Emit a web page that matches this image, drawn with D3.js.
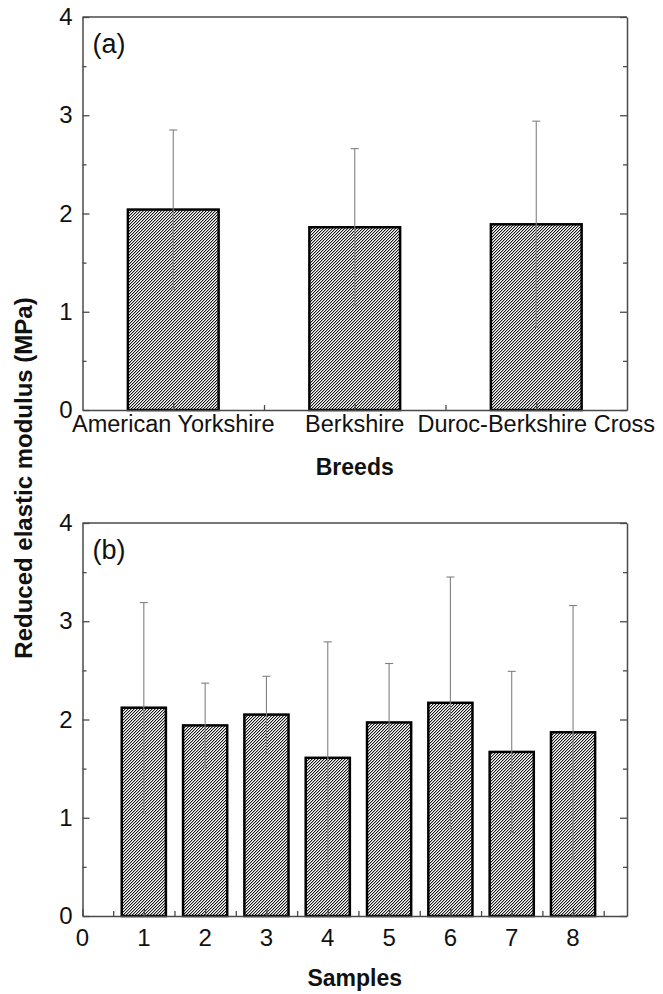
<!DOCTYPE html>
<html>
<head>
<meta charset="utf-8">
<script src="https://cdn.jsdelivr.net/npm/d3@7"></script>
<style>
  html, body { margin: 0; padding: 0; background: #fff; }
  svg { display: block; }
  text { font-family: "Liberation Sans", Arial, sans-serif; fill: #111; }
</style>
</head>
<body>
<script>
// ---------- data ----------
const breeds = ["American Yorkshire", "Berkshire", "Duroc-Berkshire Cross"];
const breedMeans = [2.04, 1.86, 1.89];
const breedSD = [0.81, 0.80, 1.05];

const samples = [1, 2, 3, 4, 5, 6, 7, 8];
const sampleMeans = [2.12, 1.94, 2.05, 1.61, 1.97, 2.17, 1.67, 1.87];
const sampleSD = [1.07, 0.43, 0.39, 1.18, 0.60, 1.28, 0.82, 1.29];

const yTicks = [0, 1, 2, 3, 4];
const yMinorTicks = [0.5, 1.5, 2.5, 3.5];
const sampleTicks = [0, 1, 2, 3, 4, 5, 6, 7, 8];
const sampleMinorTicks = [0.5, 1.5, 2.5, 3.5, 4.5, 5.5, 6.5, 7.5, 8.5];
const breedTicks = [1, 2, 3];
const breedMinorTicks = [1.5, 2.5];

const yLabel = "Reduced elastic modulus (MPa)";

// ---------- layout ----------
const W = 663, H = 994;
const left = 82.5, right = 627;
const svg = d3.select("body").append("svg").attr("width", W).attr("height", H);
svg.append("rect").attr("width", W).attr("height", H).attr("fill", "#fff");

// hatch pattern "/"
const defs = svg.append("defs");
const pat = defs.append("pattern").attr("id", "hatch").attr("patternUnits", "userSpaceOnUse")
  .attr("width", 3).attr("height", 3);
pat.append("rect").attr("width", 3).attr("height", 3).attr("fill", "#fff");
[[0, 2], [1, 1], [2, 0]].forEach(([px, py]) =>
  pat.append("rect").attr("x", px).attr("y", py).attr("width", 1).attr("height", 1)
    .attr("fill", "#1a1a1a").attr("shape-rendering", "crispEdges"));
[[1, 2], [2, 1], [0, 0]].forEach(([px, py]) =>
  pat.append("rect").attr("x", px).attr("y", py).attr("width", 1).attr("height", 1)
    .attr("fill", "#b0b0b0").attr("shape-rendering", "crispEdges"));

const FRAME = "#4a4a4a";

function panel(cfg) {
  const { x, y, cats, means, sds, barW, tag, majorX, minorX } = cfg;
  const g = svg.append("g");
  const [y0, y1] = y.range();
  const [x0, x1] = x.range();

  // bars
  g.selectAll("rect.bar").data(means).join("rect")
    .attr("class", "bar")
    .attr("x", (d, i) => x(cats[i]) - (x(barW) - x(0)) / 2)
    .attr("width", x(barW) - x(0))
    .attr("y", d => y(d))
    .attr("height", d => y(0) - y(d))
    .attr("fill", "url(#hatch)")
    .attr("stroke", "#000").attr("stroke-width", 2.5);

  // error bars
  const eb = g.selectAll("g.eb").data(means).join("g").attr("class", "eb")
    .attr("stroke", "#808080").attr("stroke-width", 1.1);
  eb.append("line")
    .attr("x1", (d, i) => x(cats[i])).attr("x2", (d, i) => x(cats[i]))
    .attr("y1", (d, i) => y(d + sds[i])).attr("y2", (d, i) => y(d - sds[i]));
  eb.append("line")
    .attr("x1", (d, i) => x(cats[i]) - 4).attr("x2", (d, i) => x(cats[i]) + 4)
    .attr("y1", (d, i) => y(d + sds[i])).attr("y2", (d, i) => y(d + sds[i]));
  eb.append("line")
    .attr("x1", (d, i) => x(cats[i]) - 2).attr("x2", (d, i) => x(cats[i]) + 2)
    .attr("y1", (d, i) => y(d - sds[i])).attr("y2", (d, i) => y(d - sds[i]));

  // axes (inward ticks)
  const styleAxis = sel => {
    sel.select(".domain").attr("stroke", FRAME).attr("stroke-width", 1.5);
    sel.selectAll(".tick line").attr("stroke", FRAME).attr("stroke-width", 1.3);
  };
  // left
  const la = g.append("g").attr("transform", `translate(${x0},0)`)
    .call(d3.axisLeft(y).tickValues(yTicks).tickSizeInner(-7).tickSizeOuter(0).tickPadding(10).tickFormat(d3.format("d")));
  styleAxis(la);
  la.selectAll(".tick text").attr("font-size", 24).attr("fill", "#111")
    .style("font-family", '"Liberation Sans", Arial, sans-serif');
  g.append("g").attr("transform", `translate(${x0},0)`)
    .call(d3.axisLeft(y).tickValues(yMinorTicks).tickSize(-4).tickFormat(""))
    .call(s => { s.select(".domain").remove(); s.selectAll(".tick line").attr("stroke", FRAME).attr("stroke-width", 1.3); });
  // right
  const ra = g.append("g").attr("transform", `translate(${x1},0)`)
    .call(d3.axisRight(y).tickValues(yTicks).tickSizeInner(-7).tickSizeOuter(0).tickFormat(""));
  styleAxis(ra);
  g.append("g").attr("transform", `translate(${x1},0)`)
    .call(d3.axisRight(y).tickValues(yMinorTicks).tickSize(-4).tickFormat(""))
    .call(s => { s.select(".domain").remove(); s.selectAll(".tick line").attr("stroke", FRAME).attr("stroke-width", 1.3); });
  // top
  g.append("line").attr("x1", x0).attr("x2", x1).attr("y1", y1).attr("y2", y1)
    .attr("stroke", FRAME).attr("stroke-width", 1.5);
  // bottom
  const ba = g.append("g").attr("transform", `translate(0,${y0})`)
    .call(d3.axisBottom(x).tickValues(majorX).tickSizeInner(-7).tickSizeOuter(0).tickFormat(""));
  styleAxis(ba);
  g.append("g").attr("transform", `translate(0,${y0})`)
    .call(d3.axisBottom(x).tickValues(minorX).tickSize(-5).tickFormat(""))
    .call(s => { s.select(".domain").remove(); s.selectAll(".tick line").attr("stroke", FRAME).attr("stroke-width", 1.3); });

  // panel tag
  g.append("text").attr("x", x0 + 10).attr("y", y1 + 36).attr("font-size", 27).text(tag);
  return g;
}

// ---------- panel (a) ----------
const xa = d3.scaleLinear().domain([0.5, 3.5]).range([left, right]);
const ya = d3.scaleLinear().domain([0, 4]).range([410, 17]);
const ga = panel({ x: xa, y: ya, cats: [1, 2, 3], means: breedMeans, sds: breedSD, barW: 0.5, tag: "(a)",
  majorX: breedTicks, minorX: breedMinorTicks });
ga.selectAll("text.cat").data(breeds).join("text").attr("class", "cat")
  .attr("x", (d, i) => xa(i + 1)).attr("y", 432).attr("text-anchor", "middle")
  .attr("font-size", 23.5).text(d => d);
svg.append("text").attr("x", (left + right) / 2).attr("y", 475).attr("text-anchor", "middle")
  .attr("font-size", 23).attr("font-weight", "bold").text("Breeds");

// ---------- panel (b) ----------
const xb = d3.scaleLinear().domain([0, 8.88]).range([left, right]);
const yb = d3.scaleLinear().domain([0, 4]).range([916, 523]);
const gb = panel({ x: xb, y: yb, cats: samples, means: sampleMeans, sds: sampleSD, barW: 0.72, tag: "(b)",
  majorX: sampleTicks, minorX: sampleMinorTicks });
gb.append("g").selectAll("text").data(sampleTicks).join("text")
  .attr("x", d => xb(d)).attr("y", 946).attr("text-anchor", "middle").attr("font-size", 24).text(d => d);
svg.append("text").attr("x", (left + right) / 2).attr("y", 986).attr("text-anchor", "middle")
  .attr("font-size", 23).attr("font-weight", "bold").text("Samples");

// ---------- y label ----------
svg.append("text").attr("transform", "translate(32,478) rotate(-90)").attr("text-anchor", "middle")
  .attr("font-size", 24).attr("font-weight", "bold").text(yLabel);
</script>
</body>
</html>
